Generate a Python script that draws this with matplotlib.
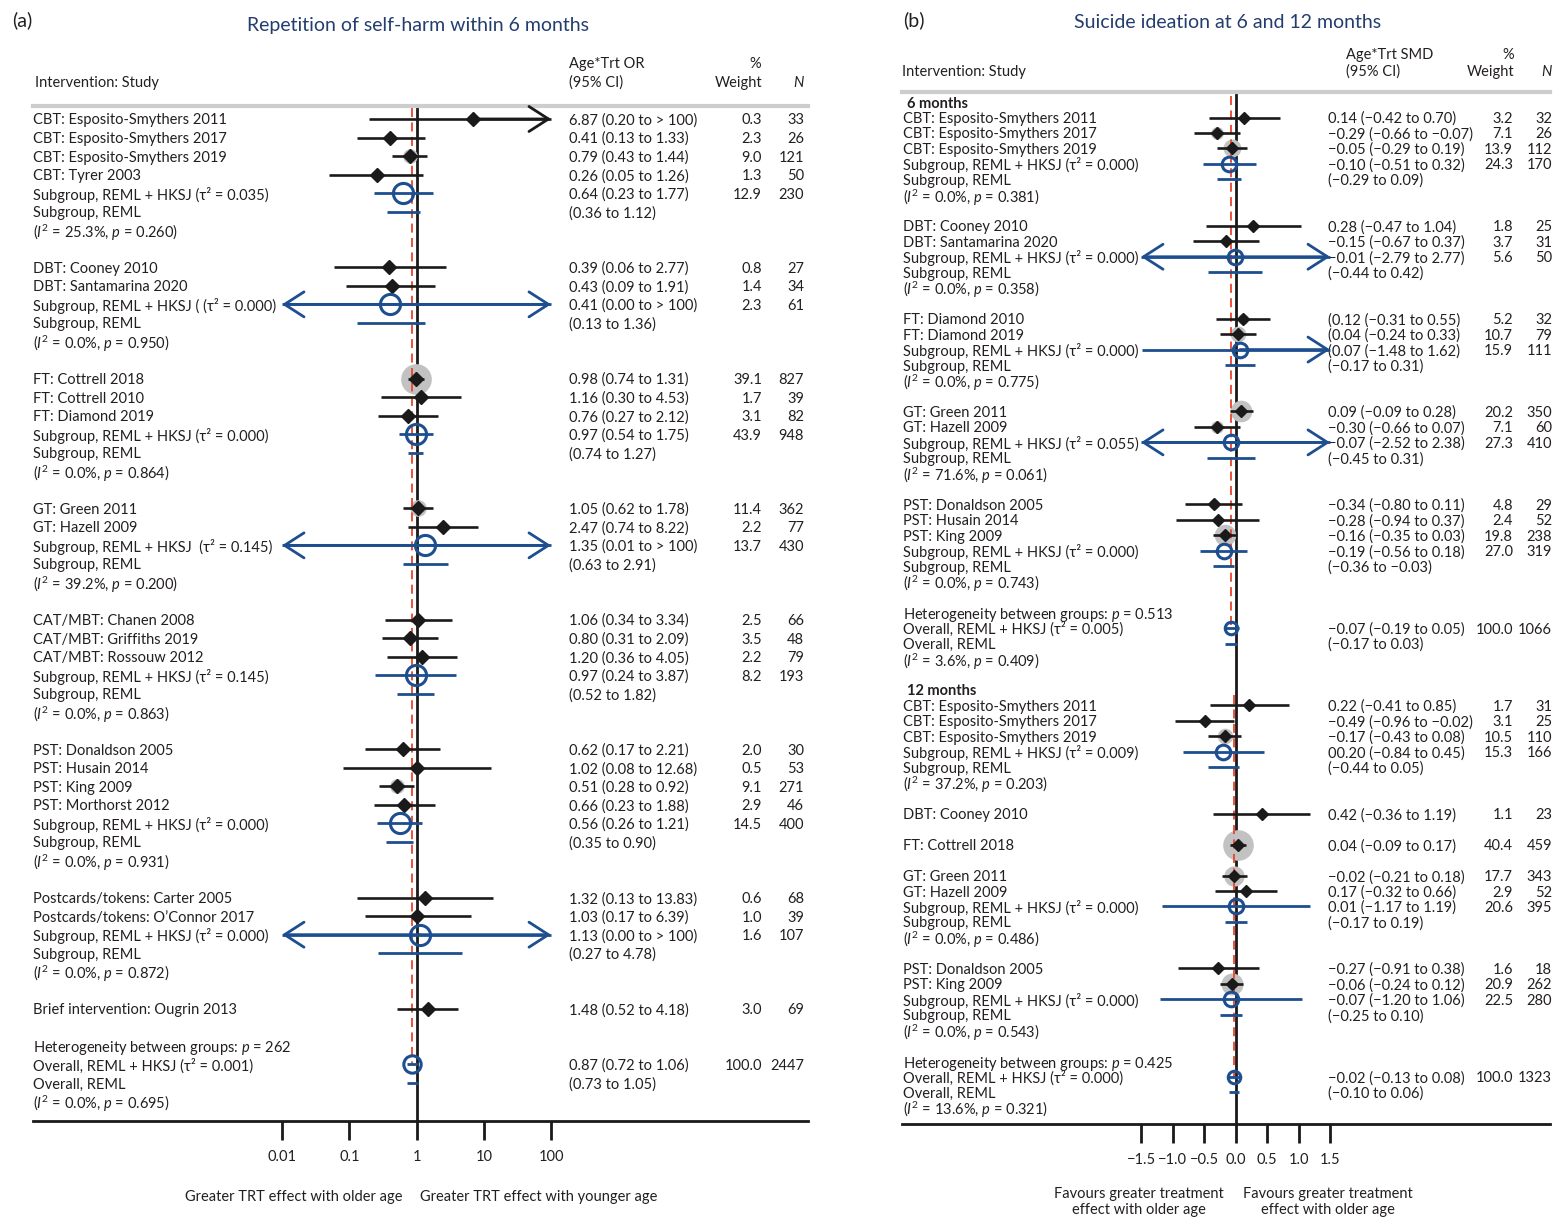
import numpy as np
import matplotlib
matplotlib.use("Agg")
import matplotlib.pyplot as plt
from matplotlib.transforms import blended_transform_factory

plt.rcParams['font.family'] = ['Lato', 'DejaVu Sans']
plt.rcParams['mathtext.fontset'] = 'custom'
plt.rcParams['mathtext.rm'] = 'Lato'
plt.rcParams['mathtext.it'] = 'Lato:italic'
plt.rcParams['mathtext.bf'] = 'Lato:bold'

W, H = 1559, 1220
FS = 10.5
TXT = '#231f20'
INK = '#1a1a1a'
BLUE = '#1d4e8f'
NAVY = '#233d6e'
RED = '#e8452c'
GREY = '#c2c2c2'
TAU = '\u03c4\u00b2'

# ---------------- (a) repetition of self-harm, odds ratios ----------------
A_STUDY = ['CBT: Esposito-Smythers 2011', 'CBT: Esposito-Smythers 2017', 'CBT: Esposito-Smythers 2019',
           'CBT: Tyrer 2003',
           'DBT: Cooney 2010', 'DBT: Santamarina 2020',
           'FT: Cottrell 2018', 'FT: Cottrell 2010', 'FT: Diamond 2019',
           'GT: Green 2011', 'GT: Hazell 2009',
           'CAT/MBT: Chanen 2008', 'CAT/MBT: Griffiths 2019', 'CAT/MBT: Rossouw 2012',
           'PST: Donaldson 2005', 'PST: Husain 2014', 'PST: King 2009', 'PST: Morthorst 2012',
           'Postcards/tokens: Carter 2005', 'Postcards/tokens: O\u2019Connor 2017',
           'Brief intervention: Ougrin 2013']
A_GROUP = [0, 0, 0, 0, 1, 1, 2, 2, 2, 3, 3, 4, 4, 4, 5, 5, 5, 5, 6, 6, 7]
A_OR = [6.87, 0.41, 0.79, 0.26, 0.39, 0.43, 0.98, 1.16, 0.76, 1.05, 2.47,
        1.06, 0.80, 1.20, 0.62, 1.02, 0.51, 0.66, 1.32, 1.03, 1.48]
A_LO = [0.20, 0.13, 0.43, 0.05, 0.06, 0.09, 0.74, 0.30, 0.27, 0.62, 0.74,
        0.34, 0.31, 0.36, 0.17, 0.08, 0.28, 0.23, 0.13, 0.17, 0.52]
A_HI = [np.inf, 1.33, 1.44, 1.26, 2.77, 1.91, 1.31, 4.53, 2.12, 1.78, 8.22,
        3.34, 2.09, 4.05, 2.21, 12.68, 0.92, 1.88, 13.83, 6.39, 4.18]
A_WEIGHT = [0.3, 2.3, 9.0, 1.3, 0.8, 1.4, 39.1, 1.7, 3.1, 11.4, 2.2,
            2.5, 3.5, 2.2, 2.0, 0.5, 9.1, 2.9, 0.6, 1.0, 3.0]
A_N = [33, 26, 121, 50, 27, 34, 827, 39, 82, 362, 77, 66, 48, 79, 30, 53, 271, 46, 68, 39, 69]

A_SUB_GROUP = [0, 1, 2, 3, 4, 5, 6]
A_SUB_LABEL = [f'Subgroup, REML + HKSJ ({TAU} = 0.035)',
               f'Subgroup, REML + HKSJ ( ({TAU} = 0.000)',
               f'Subgroup, REML + HKSJ ({TAU} = 0.000)',
               f'Subgroup, REML + HKSJ  ({TAU} = 0.145)',
               f'Subgroup, REML + HKSJ ({TAU} = 0.145)',
               f'Subgroup, REML + HKSJ ({TAU} = 0.000)',
               f'Subgroup, REML + HKSJ ({TAU} = 0.000)']
A_SUB_OR = [0.64, 0.41, 0.97, 1.35, 0.97, 0.56, 1.13]
A_SUB_LO = [0.23, 0.0, 0.54, 0.006, 0.24, 0.26, 0.0]   # 0.006 prints as 0.01, drawn with arrow
A_SUB_HI = [1.77, np.inf, 1.75, np.inf, 3.87, 1.21, np.inf]
A_SUB_W = [12.9, 2.3, 43.9, 13.7, 8.2, 14.5, 1.6]
A_SUB_N = [230, 61, 948, 430, 193, 400, 107]
A_REML_LO = [0.36, 0.13, 0.74, 0.63, 0.52, 0.35, 0.27]
A_REML_HI = [1.12, 1.36, 1.27, 2.91, 1.82, 0.90, 4.78]
A_I2 = ['25.3', '0.0', '0.0', '39.2', '0.0', '0.0', '0.0']
A_P = ['0.260', '0.950', '0.864', '0.200', '0.863', '0.931', '0.872']

A_OVERALL = dict(het='262', tau='0.001', est=0.87, lo=0.72, hi=1.06, w=100.0, n=2447,
                 rlo=0.73, rhi=1.05, i2='0.0', p='0.695')
A_TICKS = [0.01, 0.1, 1, 10, 100]
A_TICK_LABELS = ['0.01', '0.1', '1', '10', '100']


def fmt_or(e, lo, hi):
    hs = '> 100' if hi > 100 else f'{hi:.2f}'
    return f'{e:.2f} ({lo:.2f} to {hs})'


A_CI_TXT = [fmt_or(e, l, h) for e, l, h in zip(A_OR, A_LO, A_HI)]
A_SUB_TXT = [fmt_or(e, l, h) for e, l, h in zip(A_SUB_OR, A_SUB_LO, A_SUB_HI)]
A_REML_TXT = [f'({l:.2f} to {h:.2f})' for l, h in zip(A_REML_LO, A_REML_HI)]

# ---------------- (b) suicide ideation, SMD ----------------
B6_STUDY = ['CBT: Esposito-Smythers 2011', 'CBT: Esposito-Smythers 2017', 'CBT: Esposito-Smythers 2019',
            'DBT: Cooney 2010', 'DBT: Santamarina 2020',
            'FT: Diamond 2010', 'FT: Diamond 2019',
            'GT: Green 2011', 'GT: Hazell 2009',
            'PST: Donaldson 2005', 'PST: Husain 2014', 'PST: King 2009']
B6_GROUP = [0, 0, 0, 1, 1, 2, 2, 3, 3, 4, 4, 4]
B6_SMD = [0.14, -0.29, -0.05, 0.28, -0.15, 0.12, 0.04, 0.09, -0.30, -0.34, -0.28, -0.16]
B6_LO = [-0.42, -0.66, -0.29, -0.47, -0.67, -0.31, -0.24, -0.09, -0.66, -0.80, -0.94, -0.35]
B6_HI = [0.70, 0.07, 0.19, 1.04, 0.37, 0.55, 0.33, 0.28, 0.07, 0.11, 0.37, 0.03]
B6_CI_TXT = ['0.14 (\u22120.42 to 0.70)', '\u22120.29 (\u22120.66 to \u22120.07)',
             '\u22120.05 (\u22120.29 to 0.19)', '0.28 (\u22120.47 to 1.04)',
             '\u22120.15 (\u22120.67 to 0.37)', '(0.12 (\u22120.31 to 0.55)',
             '(0.04 (\u22120.24 to 0.33)', '0.09 (\u22120.09 to 0.28)',
             '\u22120.30 (\u22120.66 to 0.07)', '\u22120.34 (\u22120.80 to 0.11)',
             '\u22120.28 (\u22120.94 to 0.37)', '\u22120.16 (\u22120.35 to 0.03)']
B6_WEIGHT = [3.2, 7.1, 13.9, 1.8, 3.7, 5.2, 10.7, 20.2, 7.1, 4.8, 2.4, 19.8]
B6_N = [32, 26, 112, 25, 31, 32, 79, 350, 60, 29, 52, 238]

B6_SUB_GROUP = [0, 1, 2, 3, 4]
B6_SUB_TAU = ['0.000', '0.000', '0.000', '0.055', '0.000']
B6_SUB_SMD = [-0.10, -0.01, 0.07, -0.07, -0.19]
B6_SUB_LO = [-0.51, -2.79, -1.48, -2.52, -0.56]
B6_SUB_HI = [0.32, 2.77, 1.62, 2.38, 0.18]
B6_SUB_TXT = ['\u22120.10 (\u22120.51 to 0.32)', '\u22120.01 (\u22122.79 to 2.77)',
              '(0.07 (\u22121.48 to 1.62)', '\u22120.07 (\u22122.52 to 2.38)',
              '\u22120.19 (\u22120.56 to 0.18)']
B6_SUB_W = [24.3, 5.6, 15.9, 27.3, 27.0]
B6_SUB_N = [170, 50, 111, 410, 319]
B6_REML_LO = [-0.29, -0.44, -0.17, -0.45, -0.36]
B6_REML_HI = [0.09, 0.42, 0.31, 0.31, -0.03]
B6_REML_TXT = ['(\u22120.29 to 0.09)', '(\u22120.44 to 0.42)', '(\u22120.17 to 0.31)',
               '(\u22120.45 to 0.31)', '(\u22120.36 to \u22120.03)']
B6_I2 = ['0.0', '0.0', '0.0', '71.6', '0.0']
B6_P = ['0.381', '0.358', '0.775', '0.061', '0.743']
B6_OVERALL = dict(het='0.513', tau='0.005', est=-0.07, lo=-0.19, hi=0.05, w=100.0, n=1066,
                  txt='\u22120.07 (\u22120.19 to 0.05)', rlo=-0.17, rhi=0.03,
                  rtxt='(\u22120.17 to 0.03)', i2='3.6', p='0.409')

B12_STUDY = ['CBT: Esposito-Smythers 2011', 'CBT: Esposito-Smythers 2017', 'CBT: Esposito-Smythers 2019',
             'DBT: Cooney 2010', 'FT: Cottrell 2018', 'GT: Green 2011', 'GT: Hazell 2009',
             'PST: Donaldson 2005', 'PST: King 2009']
B12_GROUP = [0, 0, 0, 1, 2, 3, 3, 4, 4]
B12_SMD = [0.22, -0.49, -0.17, 0.42, 0.04, -0.02, 0.17, -0.27, -0.06]
B12_LO = [-0.41, -0.96, -0.43, -0.36, -0.09, -0.21, -0.32, -0.91, -0.24]
B12_HI = [0.85, -0.02, 0.08, 1.19, 0.17, 0.18, 0.66, 0.38, 0.12]
B12_CI_TXT = ['0.22 (\u22120.41 to 0.85)', '\u22120.49 (\u22120.96 to \u22120.02)',
              '\u22120.17 (\u22120.43 to 0.08)', '0.42 (\u22120.36 to 1.19)',
              '0.04 (\u22120.09 to 0.17)', '\u22120.02 (\u22120.21 to 0.18)',
              '0.17 (\u22120.32 to 0.66)', '\u22120.27 (\u22120.91 to 0.38)',
              '\u22120.06 (\u22120.24 to 0.12)']
B12_WEIGHT = [1.7, 3.1, 10.5, 1.1, 40.4, 17.7, 2.9, 1.6, 20.9]
B12_N = [31, 25, 110, 23, 459, 343, 52, 18, 262]

B12_SUB_GROUP = [0, 3, 4]
B12_SUB_TAU = ['0.009', '0.000', '0.000']
B12_SUB_SMD = [-0.20, 0.01, -0.07]
B12_SUB_LO = [-0.84, -1.17, -1.20]
B12_SUB_HI = [0.45, 1.19, 1.06]
B12_SUB_TXT = ['00.20 (\u22120.84 to 0.45)', '0.01 (\u22121.17 to 1.19)', '\u22120.07 (\u22121.20 to 1.06)']
B12_SUB_W = [15.3, 20.6, 22.5]
B12_SUB_N = [166, 395, 280]
B12_REML_LO = [-0.44, -0.17, -0.25]
B12_REML_HI = [0.05, 0.19, 0.10]
B12_REML_TXT = ['(\u22120.44 to 0.05)', '(\u22120.17 to 0.19)', '(\u22120.25 to 0.10)']
B12_I2 = ['37.2', '0.0', '0.0']
B12_P = ['0.203', '0.486', '0.543']
B12_OVERALL = dict(het='0.425', tau='0.000', est=-0.02, lo=-0.13, hi=0.08, w=100.0, n=1323,
                   txt='\u22120.02 (\u22120.13 to 0.08)', rlo=-0.10, rhi=0.06,
                   rtxt='(\u22120.10 to 0.06)', i2='13.6', p='0.321')
B_TICKS = [-1.5, -1.0, -0.5, 0.0, 0.5, 1.0, 1.5]
B_TICK_LABELS = ['\u22121.5', '\u22121.0', '\u22120.5', '0.0', '0.5', '1.0', '1.5']

A_OVERALL['txt'] = fmt_or(A_OVERALL['est'], A_OVERALL['lo'], A_OVERALL['hi'])
A_OVERALL['rtxt'] = f"({A_OVERALL['rlo']:.2f} to {A_OVERALL['rhi']:.2f})"

fig = plt.figure(figsize=(W / 100, H / 100), dpi=100)


def arrow(ax, tip, tail, y, color):
    ax.annotate('', xy=(tip, y), xytext=(tail, y), zorder=3,
                arrowprops=dict(arrowstyle='->,head_length=1.4,head_width=0.9', color=color,
                                lw=2, shrinkA=0, shrinkB=0, mutation_scale=10))


def ci_line(ax, y, est, lo, hi, lim, color, lw):
    a, b = max(lo, lim[0]), min(hi, lim[1])
    ax.plot([a, b], [y, y], color=color, lw=lw, solid_capstyle='butt', zorder=3)
    if lo < lim[0]:
        arrow(ax, lim[0], est, y, color)
    if hi > lim[1]:
        arrow(ax, lim[1], est, y, color)


def draw_section(ax, cfg, sec, row):
    tr = blended_transform_factory(fig.transFigure, ax.transData)

    def put(px, y, s, ha='left', **kw):
        ax.text(px / W, y, s, transform=tr, ha=ha, va='center_baseline', color=TXT,
                fontsize=FS, **kw)

    lim = cfg['lim']
    for g in range(max(sec['group']) + 1):
        for i, gg in enumerate(sec['group']):
            if gg != g:
                continue
            put(cfg['lab_x'], row, sec['label'][i])
            put(cfg['ci_x'], row, sec['ci_txt'][i])
            put(cfg['w_x'], row, f"{sec['w'][i]:.1f}", ha='right')
            put(cfg['n_x'], row, str(sec['n'][i]), ha='right')
            ax.scatter([sec['est'][i]], [row], s=cfg['gk'] * sec['w'][i], color=GREY, lw=0, zorder=2)
            ci_line(ax, row, sec['est'][i], sec['lo'][i], sec['hi'][i], lim, INK, 1.9)
            ax.plot([sec['est'][i]], [row], marker='D', ms=cfg['dms'], color=INK, zorder=4)
            row += 1
        if g in sec['sub_group']:
            j = sec['sub_group'].index(g)
            put(cfg['lab_x'], row, sec['sub_label'][j])
            put(cfg['ci_x'], row, sec['sub_txt'][j])
            put(cfg['w_x'], row, f"{sec['sub_w'][j]:.1f}", ha='right')
            put(cfg['n_x'], row, str(sec['sub_n'][j]), ha='right')
            ci_line(ax, row, sec['sub_est'][j], sec['sub_lo'][j], sec['sub_hi'][j], lim, BLUE, 2)
            ax.plot([sec['sub_est'][j]], [row], marker='o', ms=cfg['cms'], mfc='none',
                    mec=BLUE, mew=2.2, zorder=5)
            put(cfg['lab_x'], row + 1, 'Subgroup, REML')
            put(cfg['ci_x'], row + 1, sec['reml_txt'][j])
            ax.plot([sec['reml_lo'][j], sec['reml_hi'][j]], [row + 1] * 2, color=BLUE, lw=2,
                    solid_capstyle='butt', zorder=3)
            put(cfg['lab_x'], row + 2, f"($I^2$ = {sec['i2'][j]}%, $p$ = {sec['p'][j]})")
            row += 3
        row += 1
    ov = sec['overall']
    put(cfg['lab_x'], row, rf"Heterogeneity between groups: $p$ = {ov['het']}")
    row += 1
    put(cfg['lab_x'], row, f"Overall, REML + HKSJ ({TAU} = {ov['tau']})")
    put(cfg['ci_x'], row, ov['txt'])
    put(cfg['w_x'], row, f"{ov['w']:.1f}", ha='right')
    put(cfg['n_x'], row, str(ov['n']), ha='right')
    ci_line(ax, row, ov['est'], ov['lo'], ov['hi'], lim, BLUE, 2)
    ax.plot([ov['est']], [row], marker='o', ms=cfg['oms'], mfc='none', mec=BLUE, mew=2.2, zorder=5)
    put(cfg['lab_x'], row + 1, 'Overall, REML')
    put(cfg['ci_x'], row + 1, ov['rtxt'])
    ax.plot([ov['rlo'], ov['rhi']], [row + 1] * 2, color=BLUE, lw=2, solid_capstyle='butt', zorder=3)
    put(cfg['lab_x'], row + 2, f"($I^2$ = {ov['i2']}%, $p$ = {ov['p']})")
    return row


def setup_axes(ax, ref, ticks, labels):
    for s in ('left', 'right'):
        ax.spines[s].set_visible(False)
    ax.spines['top'].set_color('#cdcdcd')
    ax.spines['top'].set_linewidth(3)
    ax.spines['bottom'].set_color(INK)
    ax.spines['bottom'].set_linewidth(2)
    ax.set_yticks([])
    ax.set_xticks(ticks, labels=labels)
    ax.xaxis.set_minor_locator(matplotlib.ticker.NullLocator())
    ax.tick_params(axis='x', length=14, width=2, color=INK, pad=7, labelsize=FS, labelcolor=TXT)
    ax.axvline(ref, color=INK, lw=2, zorder=1.5)
    ax.patch.set_alpha(0)


def headers(lab_x, ci_x, pct_x, w_x, n_x, y1, y2, est_name):
    def t(px, py, s, **kw):
        fig.text(px / W, 1 - py / H, s, va='center', color=TXT, fontsize=FS, **kw)
    t(lab_x, y2, 'Intervention: Study')
    t(ci_x, y1, est_name)
    t(ci_x, y2, '(95% CI)')
    t(pct_x, y1, '%', ha='center')
    t(w_x, y2, 'Weight', ha='right')
    t(n_x, y2, 'N', ha='right', style='italic')


# ---- panel (a)
axA = fig.add_axes([33 / W, 1 - 1121 / H, (808 - 33) / W, (1121 - 106) / H])
axA.set_xscale('log')
axA.set_xlim(10 ** ((33 - 416.5) / 67.25), 10 ** ((808 - 416.5) / 67.25))
axA.set_ylim(54.05, -0.70)
setup_axes(axA, 1, A_TICKS, A_TICK_LABELS)
secA = dict(label=A_STUDY, group=A_GROUP, est=A_OR, lo=A_LO, hi=A_HI, ci_txt=A_CI_TXT,
            w=A_WEIGHT, n=A_N, sub_group=A_SUB_GROUP, sub_label=A_SUB_LABEL, sub_est=A_SUB_OR,
            sub_lo=A_SUB_LO, sub_hi=A_SUB_HI, sub_txt=A_SUB_TXT, sub_w=A_SUB_W, sub_n=A_SUB_N,
            reml_lo=A_REML_LO, reml_hi=A_REML_HI, reml_txt=A_REML_TXT, i2=A_I2, p=A_P,
            overall=A_OVERALL)
cfgA = dict(lim=(0.01, 100), lab_x=33, ci_x=569, w_x=762, n_x=804, gk=12.5, dms=6.8, cms=14.5, oms=12.5)
ov_row = draw_section(axA, cfgA, secA, 0)
axA.plot([A_OVERALL['est']] * 2, [-0.6, ov_row], color=RED, lw=1.3, ls=(0, (5, 3)), zorder=2.5)
headers(35, 569, 755, 762, 804, 64, 83, 'Age*Trt OR')

# ---- panel (b)
axB = fig.add_axes([902 / W, 1 - 1124 / H, (1550 - 902) / W, (1124 - 92) / H])
axB.set_xlim((902 - 1235.5) / 63, (1550 - 1235.5) / 63)
axB.set_ylim(66.06, -0.65)
setup_axes(axB, 0, B_TICKS, B_TICK_LABELS)
cfgB = dict(lim=(-1.5, 1.5), lab_x=903, ci_x=1328, w_x=1513, n_x=1552, gk=12.0, dms=6.0, cms=10.5, oms=9)
trB = blended_transform_factory(fig.transFigure, axB.transData)


def sub_labels(taus):
    return [f'Subgroup, REML + HKSJ ({TAU} = {t})' for t in taus]


sec6 = dict(label=B6_STUDY, group=B6_GROUP, est=B6_SMD, lo=B6_LO, hi=B6_HI, ci_txt=B6_CI_TXT,
            w=B6_WEIGHT, n=B6_N, sub_group=B6_SUB_GROUP, sub_label=sub_labels(B6_SUB_TAU),
            sub_est=B6_SUB_SMD, sub_lo=B6_SUB_LO, sub_hi=B6_SUB_HI, sub_txt=B6_SUB_TXT,
            sub_w=B6_SUB_W, sub_n=B6_SUB_N, reml_lo=B6_REML_LO, reml_hi=B6_REML_HI,
            reml_txt=B6_REML_TXT, i2=B6_I2, p=B6_P, overall=B6_OVERALL)
sec12 = dict(label=B12_STUDY, group=B12_GROUP, est=B12_SMD, lo=B12_LO, hi=B12_HI, ci_txt=B12_CI_TXT,
             w=B12_WEIGHT, n=B12_N, sub_group=B12_SUB_GROUP, sub_label=sub_labels(B12_SUB_TAU),
             sub_est=B12_SUB_SMD, sub_lo=B12_SUB_LO, sub_hi=B12_SUB_HI, sub_txt=B12_SUB_TXT,
             sub_w=B12_SUB_W, sub_n=B12_SUB_N, reml_lo=B12_REML_LO, reml_hi=B12_REML_HI,
             reml_txt=B12_REML_TXT, i2=B12_I2, p=B12_P, overall=B12_OVERALL)

axB.text(907 / W, 0, '6 months', transform=trB, va='center_baseline', fontsize=FS,
         fontweight='bold', color=TXT)
ov6 = draw_section(axB, cfgB, sec6, 1)
axB.plot([B6_OVERALL['est']] * 2, [-0.4, ov6], color=RED, lw=1.3, ls=(0, (5, 3)), zorder=2.5)
start12 = ov6 + 4
axB.text(907 / W, start12, '12 months', transform=trB, va='center_baseline', fontsize=FS,
         fontweight='bold', color=TXT)
ov12 = draw_section(axB, cfgB, sec12, start12 + 1)
axB.plot([B12_OVERALL['est']] * 2, [start12 + 0.3, ov12], color=RED, lw=1.3, ls=(0, (5, 3)), zorder=2.5)
headers(902, 1346, 1508, 1514, 1552, 55, 72, 'Age*Trt SMD')

# ---- titles and footers
fig.text(12 / W, 1 - 20 / H, '(a)', fontsize=14, color=TXT, va='center')
fig.text(903 / W, 1 - 20 / H, '(b)', fontsize=14, color=TXT, va='center')
fig.text(418 / W, 1 - 26 / H, 'Repetition of self-harm within 6 months', fontsize=14, color=NAVY,
         ha='center', va='center')
fig.text(1228 / W, 1 - 22 / H, 'Suicide ideation at 6 and 12 months', fontsize=14, color=NAVY,
         ha='center', va='center')
fig.text(294 / W, 1 - 1197 / H, 'Greater TRT effect with older age', fontsize=FS, color=TXT,
         ha='center', va='center')
fig.text(539 / W, 1 - 1197 / H, 'Greater TRT effect with younger age', fontsize=FS, color=TXT,
         ha='center', va='center')
fig.text(1139 / W, 1 - 1202 / H, 'Favours greater treatment\neffect with older age', fontsize=FS,
         color=TXT, ha='center', va='center', linespacing=1.25)
fig.text(1328 / W, 1 - 1202 / H, 'Favours greater treatment\neffect with older age', fontsize=FS,
         color=TXT, ha='center', va='center', linespacing=1.25)

fig.savefig('out.png', dpi=100)
